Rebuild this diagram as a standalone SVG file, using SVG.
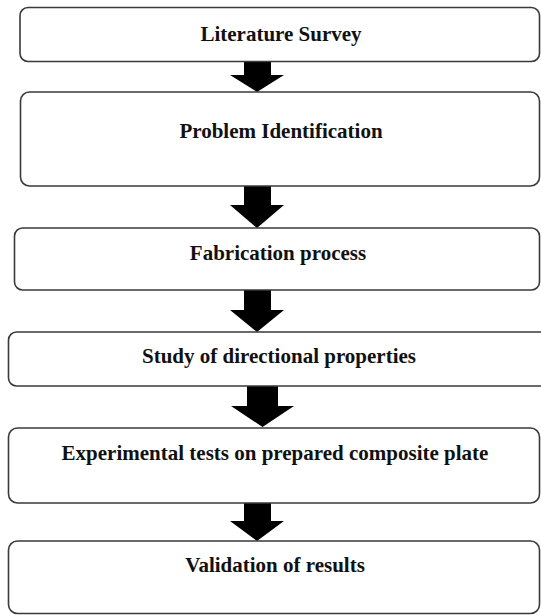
<svg xmlns="http://www.w3.org/2000/svg" width="541" height="615" viewBox="0 0 541 615">
<style>
.box{fill:#ffffff;stroke:#3a3a3a;stroke-width:1.6}
.lbl{font-family:"Liberation Serif","Times New Roman",serif;font-weight:bold;font-size:21px;fill:#111;text-anchor:middle}
.arr{fill:#000}
</style>
<rect width="541" height="615" fill="#ffffff"/>
<g id="connectors">
<polygon class="arr" points="244,62 271,62 271,75 284,75 257,92 230,75 244,75"/>
<polygon class="arr" points="244,186 271,186 271,205 284,205 257,228 230,205 244,205"/>
<polygon class="arr" points="244,290 271,290 271,310 284,310 257,332 230,310 244,310"/>
<polygon class="arr" points="247,386 278,386 278,406 294,406 262.5,427 231,406 247,406"/>
<polygon class="arr" points="244,503 271,503 271,521 284,521 257,541 230,521 244,521"/>
</g>
<g id="n1"><rect class="box" x="20" y="7.5" width="519.5" height="54" rx="8"/><text class="lbl" x="281" y="41">Literature Survey</text></g>
<g id="n2"><rect class="box" x="20.5" y="92" width="519" height="94" rx="9"/><text class="lbl" x="281" y="138">Problem Identification</text></g>
<g id="n3"><rect class="box" x="14.5" y="228" width="525" height="62" rx="8"/><text class="lbl" x="278" y="260">Fabrication process</text></g>
<g id="n4"><rect class="box" x="8.5" y="332" width="545" height="54" rx="8"/><text class="lbl" x="279" y="363">Study of directional properties</text></g>
<g id="n5"><rect class="box" x="8.5" y="428" width="531" height="75" rx="9"/><text class="lbl" x="275" y="460">Experimental tests on prepared composite plate</text></g>
<g id="n6"><rect class="box" x="8.5" y="541" width="531" height="72.5" rx="9"/><text class="lbl" x="275" y="572">Validation of results</text></g>
</svg>
